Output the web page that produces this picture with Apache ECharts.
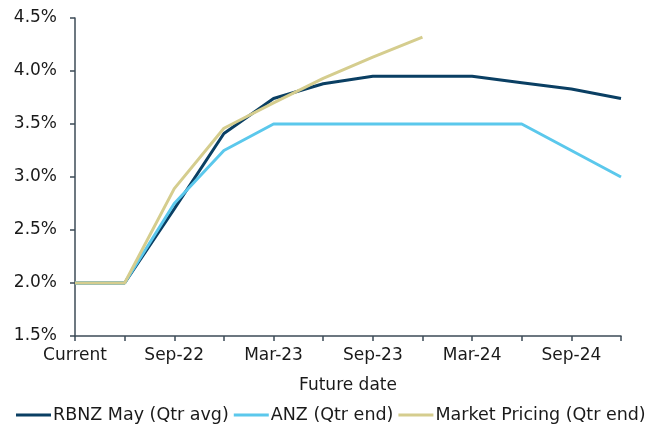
<!DOCTYPE html>
<html><head><meta charset="utf-8">
<script src="https://cdn.jsdelivr.net/npm/echarts@6/dist/echarts.min.js"></script>
<style>html,body{margin:0;padding:0;background:#fff}#c{width:653px;height:426px}</style>
</head><body><div id="c"></div>
<script>
var categories = ['Current','Jun-22','Sep-22','Dec-22','Mar-23','Jun-23','Sep-23','Dec-23','Mar-24','Jun-24','Sep-24','Dec-24'];
var rbnz = [2.0, 2.0, 2.70, 3.41, 3.74, 3.88, 3.95, 3.95, 3.95, 3.89, 3.83, 3.74];
var anz = [2.0, 2.0, 2.75, 3.25, 3.5, 3.5, 3.5, 3.5, 3.5, 3.5, 3.25, 3.0];
var market = [2.0, 2.0, 2.89, 3.46, 3.70, 3.93, 4.13, 4.32, null, null, null, null];
var seriesNames = ['RBNZ May (Qtr avg)', 'ANZ (Qtr end)', 'Market Pricing (Qtr end)'];
var yTicks = {min: 1.5, max: 4.5, interval: 0.5};

var font = '"DejaVu Sans", Verdana, sans-serif';
var axisCol = '#3d4b57';
var chart = echarts.init(document.getElementById('c'), null, {renderer:'canvas'});
function ser(name, data, color){
  return {name:name, type:'line', data:data, symbol:'none', showSymbol:false,
    lineStyle:{color:color, width:3}, itemStyle:{color:color}, connectNulls:false, animation:false};
}
chart.setOption({
  animation:false,
  grid:{left:75, right:32, top:18, bottom:90, containLabel:false},
  legend:{top:401, left:11, itemWidth:35, itemHeight:3, itemGap:5,
    icon:'rect',
    textStyle:{fontFamily:font, fontSize:17.5, color:'#1a1a1a', padding:[0,0,0,-3]},
    data:seriesNames},
  xAxis:{type:'category', data:categories, boundaryGap:false,
    name:'Future date', nameLocation:'middle', nameGap:41,
    nameTextStyle:{fontFamily:font, fontSize:17, color:'#1a1a1a'},
    axisLine:{lineStyle:{color:axisCol, width:1.5}},
    axisTick:{show:true, interval:0, length:5, lineStyle:{color:axisCol, width:1.5}},
    axisLabel:{interval:1, margin:11, fontFamily:font, fontSize:17, color:'#1a1a1a'},
    splitLine:{show:false}},
  yAxis:{type:'value', min:yTicks.min, max:yTicks.max, interval:yTicks.interval,
    axisLine:{show:true, lineStyle:{color:axisCol, width:1.5}},
    axisTick:{show:true, length:5, lineStyle:{color:axisCol, width:1.5}},
    axisLabel:{margin:18, fontFamily:font, fontSize:17, color:'#1a1a1a',
      formatter:function(v){return v.toFixed(1)+'%';}},
    splitLine:{show:false}},
  series:[ser(seriesNames[0], rbnz, '#0a3f63'), ser(seriesNames[1], anz, '#5bc8ec'), ser(seriesNames[2], market, '#d5cd8e')]
});
</script></body></html>
